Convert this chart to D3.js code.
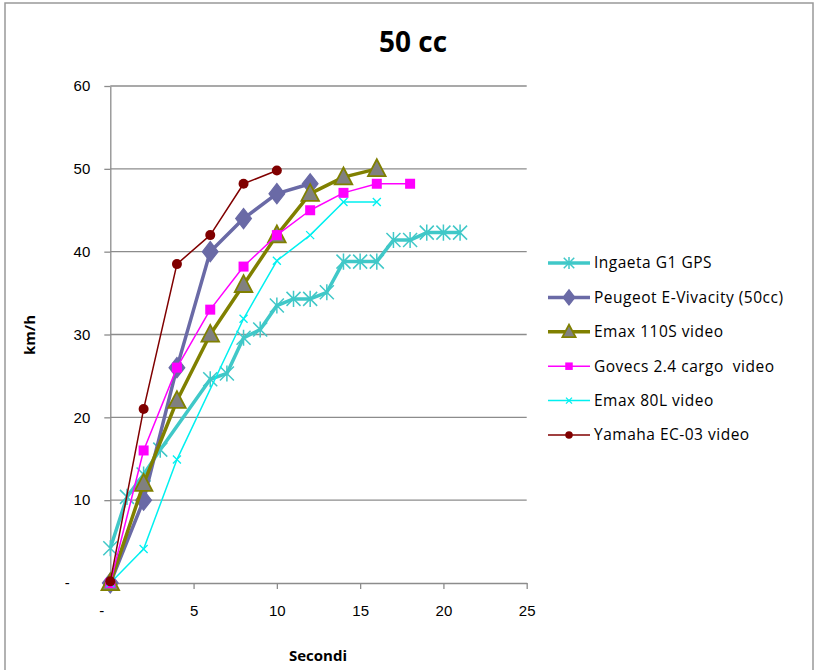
<!DOCTYPE html>
<html lang="it">
<head>
<meta charset="UTF-8">
<title>50 cc</title>
<style>
  body { margin: 0; background: #fff; }
  svg { font-family: "Open Sans", "Liberation Sans", sans-serif; }
  .grid line { stroke: #8c8c8c; stroke-width: 1.3; }
  .axis path, .axis line { stroke: #8c8c8c; stroke-width: 1.3; }
  .axis text { font-size: 15px; fill: #000; }
</style>
</head>
<body>
<svg width="821" height="670"></svg>
<script src="https://d3js.org/d3.v7.min.js"></script>
<script>
// tempo (s) e velocità (km/h) per ogni scooter
var ingaetaX = [0, 1, 2, 3, 6, 7, 8, 9, 10, 11, 12, 13, 14, 15, 16, 17, 18, 19, 20, 21];
var ingaetaY = [4.2, 10.4, 13.1, 16.1, 24.6, 25.3, 29.6, 30.6, 33.5, 34.3, 34.3, 35.1, 38.8, 38.8, 38.8, 41.4, 41.4, 42.3, 42.3, 42.3];
var peugeotX = [0, 2, 4, 6, 8, 10, 12];
var peugeotY = [0, 10, 26, 40, 44, 47, 48.2];
var emax110X = [0, 2, 4, 6, 8, 10, 12, 14, 16];
var emax110Y = [0, 12, 22, 30, 36, 42, 47, 49, 50];
var govecsX = [0, 2, 4, 6, 8, 10, 12, 14, 16, 18];
var govecsY = [0, 16, 26, 33, 38.2, 42, 45, 47.1, 48.2, 48.2];
var emax80X = [0, 2, 4, 8, 10, 12, 14, 16];
var emax80Y = [0, 4.1, 14.9, 31.9, 38.9, 42, 46, 46];
var yamahaX = [0, 2, 4, 6, 8, 10];
var yamahaY = [0.2, 21, 38.5, 42, 48.2, 49.8];

var seriesNames = ["Ingaeta G1 GPS", "Peugeot E-Vivacity (50cc)", "Emax 110S video",
                   "Govecs 2.4 cargo  video", "Emax 80L video", "Yamaha EC-03 video"];
var xTicks = [0, 5, 10, 15, 20, 25];
var yTicks = [0, 10, 20, 30, 40, 50, 60];

var series = [
  {name: seriesNames[0], xs: ingaetaX, ys: ingaetaY, color: "#40c8c8", width: 3.5, marker: "star"},
  {name: seriesNames[1], xs: peugeotX, ys: peugeotY, color: "#6a6aa6", width: 3.5, marker: "diamond"},
  {name: seriesNames[2], xs: emax110X, ys: emax110Y, color: "#808000", width: 3.5, marker: "triangle"},
  {name: seriesNames[3], xs: govecsX, ys: govecsY, color: "#ff00ff", width: 1.5, marker: "square"},
  {name: seriesNames[4], xs: emax80X, ys: emax80Y, color: "#00f0f0", width: 1.5, marker: "x"},
  {name: seriesNames[5], xs: yamahaX, ys: yamahaY, color: "#800000", width: 1.5, marker: "circle"}
];

var svg = d3.select("svg");

// cornice del grafico
svg.append("rect")
  .attr("x", 5).attr("y", 3).attr("width", 808).attr("height", 680)
  .attr("fill", "none").attr("stroke", "#999").attr("stroke-width", 1.5);

var x = d3.scaleLinear().domain([0, 25]).range([110.3, 526.7]);
var y = d3.scaleLinear().domain([0, 60]).range([583, 86]);

// griglia orizzontale
svg.append("g").attr("class", "grid")
  .selectAll("line").data(yTicks.slice(1)).enter().append("line")
  .attr("x1", x(0)).attr("x2", x(25))
  .attr("y1", function(d) { return y(d); })
  .attr("y2", function(d) { return y(d); });

var fmt = function(d) { return d === 0 ? "-" : d; };

var yAxis = svg.append("g").attr("class", "axis")
  .attr("transform", "translate(" + x(0) + ",0)")
  .call(d3.axisLeft(y).tickValues(yTicks).tickFormat(fmt).tickSize(6).tickSizeOuter(0).tickPadding(14));
yAxis.selectAll(".tick text").filter(function(d) { return d === 0; })
  .attr("text-anchor", "middle").attr("x", -43);

var xAxis = svg.append("g").attr("class", "axis")
  .attr("transform", "translate(0," + y(0) + ")")
  .call(d3.axisBottom(x).tickValues(xTicks).tickFormat(fmt).tickSize(6).tickSizeOuter(0).tickPadding(16));
xAxis.selectAll(".tick text").filter(function(d) { return d === 0; }).attr("x", -9);
xAxis.selectAll(".tick line").filter(function(d) { return d === 0; }).remove();

// marcatori
function drawMarker(g, s, size) {
  var c = s.color;
  if (s.marker === "star") {
    var r = size / 2;
    g.append("path")
      .attr("d", "M" + (-r) + "," + (-r) + "L" + r + "," + r + "M" + (-r) + "," + r + "L" + r + "," + (-r) +
                 "M0," + (-r * 1.15) + "L0," + (r * 1.15))
      .attr("stroke", c).attr("stroke-width", 1.5).attr("fill", "none");
  } else if (s.marker === "diamond") {
    g.append("path").attr("d", d3.symbol(d3.symbolDiamond, size * size * 0.6)())
      .attr("transform", "scale(1.35,1)")
      .attr("fill", c).attr("stroke", c);
  } else if (s.marker === "triangle") {
    var h = size;
    g.append("path").attr("d", "M0," + (-h * 0.6) + "L" + (h * 0.55) + "," + (h * 0.45) + "L" + (-h * 0.55) + "," + (h * 0.45) + "Z")
      .attr("fill", "#808080").attr("stroke", c).attr("stroke-width", 1.8);
  } else if (s.marker === "square") {
    g.append("rect").attr("x", -size / 2).attr("y", -size / 2).attr("width", size).attr("height", size)
      .attr("fill", c);
  } else if (s.marker === "x") {
    var q = size / 2;
    g.append("path").attr("d", "M" + (-q) + "," + (-q) + "L" + q + "," + q + "M" + (-q) + "," + q + "L" + q + "," + (-q))
      .attr("stroke", c).attr("stroke-width", 1.3).attr("fill", "none");
  } else if (s.marker === "circle") {
    g.append("circle").attr("r", size / 2).attr("fill", c);
  }
}

var markerSize = {star: 14, diamond: 14, triangle: 16, square: 10, x: 8, circle: 10};

var line = d3.line()
  .x(function(d) { return x(d[0]); })
  .y(function(d) { return y(d[1]); });

series.forEach(function(s) {
  var pts = s.xs.map(function(v, i) { return [v, s.ys[i]]; });
  var g = svg.append("g");
  g.append("path").datum(pts)
    .attr("d", line)
    .attr("fill", "none")
    .attr("stroke", s.color)
    .attr("stroke-width", s.width)
    .attr("stroke-linejoin", "round");
  pts.forEach(function(p) {
    var m = g.append("g").attr("transform", "translate(" + x(p[0]) + "," + y(p[1]) + ")");
    drawMarker(m, s, markerSize[s.marker]);
  });
});

// legenda
var legend = svg.append("g").attr("transform", "translate(548,263)");
series.forEach(function(s, i) {
  var row = legend.append("g").attr("transform", "translate(0," + (i * 34.4) + ")");
  row.append("line").attr("x1", 0).attr("x2", 42)
    .attr("stroke", s.color).attr("stroke-width", s.width);
  var m = row.append("g").attr("transform", "translate(21,0)");
  drawMarker(m, s, markerSize[s.marker] * 0.75);
  row.append("text").attr("x", 46).attr("dy", "0.35em")
    .style("font-size", "15.5px").style("letter-spacing", "0.5px").style("white-space", "pre")
    .attr("xml:space", "preserve")
    .text(s.name);
});

// titoli
svg.append("text").attr("x", 413).attr("y", 52).attr("text-anchor", "middle")
  .style("font-size", "28px").style("font-weight", "bold").text("50 cc");

svg.append("text").attr("transform", "translate(35,335) rotate(-90)").attr("text-anchor", "middle")
  .style("font-size", "15px").style("font-weight", "bold").text("km/h");

svg.append("text").attr("x", 318).attr("y", 661).attr("text-anchor", "middle")
  .style("font-size", "15px").style("font-weight", "bold").text("Secondi");
</script>
</body>
</html>
